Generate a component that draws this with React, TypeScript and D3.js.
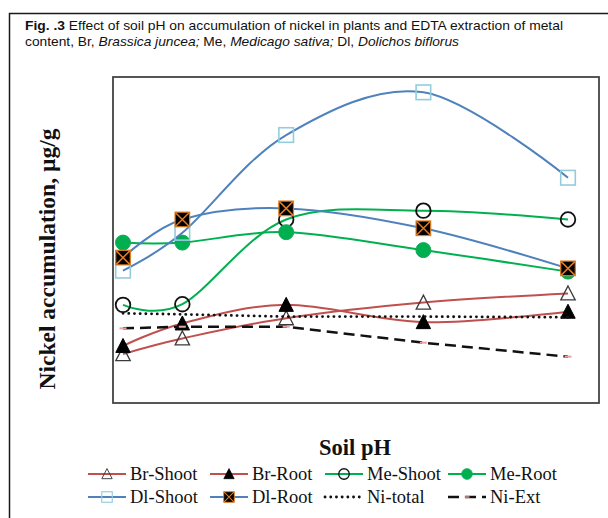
import React from "react";
import * as d3 from "d3";

const phValues = [4.0, 4.8, 6.2, 8.05, 10.0];
const brShoot = [15.0, 19.8, 26.0, 30.8, 33.6];
const brRoot = [17.5, 24.4, 30.1, 24.8, 28.0];
const meShoot = [30.1, 30.3, 56.3, 59.0, 56.3];
const meRoot = [49.2, 49.2, 52.4, 46.9, 40.3];
const dlShoot = [40.6, 52.2, 82.2, 95.3, 69.1];
const dlRoot = [44.6, 56.3, 59.7, 53.6, 41.3];
const niTotal = [27.5, 27.2, 26.5, 26.5, 26.3];
const niExt = [22.9, 23.4, 23.4, 18.5, 14.2];

const seriesNames = ["Br-Shoot", "Br-Root", "Me-Shoot", "Me-Root", "Dl-Shoot", "Dl-Root", "Ni-total", "Ni-Ext"];

const W = 608;
const H = 518;
const plot = { left: 113, top: 77, right: 599, bottom: 403 };

const RED = "#c0504d";
const GREEN = "#00b050";
const BLUE = "#4f81bd";
const LIGHTBLUE = "#93cddd";
const ORANGE = "#e07b1f";

type MarkerKind = "triOpen" | "triFill" | "circOpen" | "circFill" | "sqOpen" | "sqX" | "none" | "dash";

function Marker({ kind, x, y, s = 1 }: { kind: MarkerKind; x: number; y: number; s?: number }) {
  const t = `translate(${x},${y}) scale(${s})`;
  switch (kind) {
    case "triOpen":
      return <path transform={t} d="M0,-7.5L7.2,6.5L-7.2,6.5Z" fill="none" stroke="#3a3a3a" strokeWidth={1.3} />;
    case "triFill":
      return <path transform={t} d="M0,-7.5L7.2,6.5L-7.2,6.5Z" fill="#000" stroke="#000" strokeWidth={1} />;
    case "circOpen":
      return <circle transform={t} r={7.3} fill="none" stroke="#111" strokeWidth={1.8} />;
    case "circFill":
      return <circle transform={t} r={7.5} fill={GREEN} stroke="#1aa85a" strokeWidth={1} />;
    case "sqOpen":
      return <rect transform={t} x={-7.3} y={-7.3} width={14.6} height={14.6} fill="none" stroke={LIGHTBLUE} strokeWidth={1.6} />;
    case "sqX":
      return (
        <g transform={t}>
          <rect x={-7.3} y={-7.3} width={14.6} height={14.6} fill="#000" stroke={ORANGE} strokeWidth={1.2} />
          <path d="M-7,-7L7,7M7,-7L-7,7" stroke={ORANGE} strokeWidth={1.5} />
        </g>
      );
    case "dash":
      return <line transform={t} x1={-3.5} x2={3.5} y1={0} y2={0} stroke="#e8a3a3" strokeWidth={2} />;
    default:
      return null;
  }
}

const seriesValues = [brShoot, brRoot, meShoot, meRoot, dlShoot, dlRoot, niTotal, niExt];
const seriesStyle: { color: string; marker: MarkerKind; smooth: boolean; dash?: string; width: number; cap?: string }[] = [
  { color: RED, marker: "triOpen", smooth: true, width: 2 },
  { color: RED, marker: "triFill", smooth: true, width: 2 },
  { color: GREEN, marker: "circOpen", smooth: true, width: 2 },
  { color: GREEN, marker: "circFill", smooth: true, width: 2 },
  { color: BLUE, marker: "sqOpen", smooth: true, width: 2 },
  { color: BLUE, marker: "sqX", smooth: true, width: 2 },
  { color: "#111", marker: "none", smooth: false, dash: "0.1 5.6", width: 2.8, cap: "round" },
  { color: "#111", marker: "dash", smooth: false, dash: "11 6", width: 2.5 },
];

const legendCols = [88, 210, 325, 448];
const legendRows = [474, 497];

const TITLE_FONT = "'Liberation Sans Narrow','Arial Narrow','Liberation Sans',Arial,sans-serif";
const SERIF = "'Liberation Serif','Times New Roman',serif";

export default function App() {
  const x = d3.scaleLinear().domain([3.865, 10.418]).range([plot.left, plot.right]);
  const y = d3.scaleLinear().domain([0, 100]).range([plot.bottom, plot.top]);

  const smoothLine = d3
    .line<number>()
    .x((_, i) => x(phValues[i]))
    .y((d) => y(d))
    .curve(d3.curveCardinal.tension(0));
  const straightLine = d3
    .line<number>()
    .x((_, i) => x(phValues[i]))
    .y((d) => y(d));

  return (
    <svg width={W} height={H} style={{ position: "absolute", left: 0, top: 0, background: "#fff" }}>
      <rect x={0} y={0} width={W} height={H} fill="#fff" />
      {/* outer frame */}
      <path d={`M9.5,${H}L9.5,13.5L${W},13.5`} fill="none" stroke="#1a1a1a" strokeWidth={1.5} />
      {/* title */}
      <text x={25} y={30} fontFamily={TITLE_FONT} fontSize={13.5} fill="#111" textLength={538} lengthAdjust="spacingAndGlyphs">
        <tspan fontWeight="bold">Fig. .3</tspan>
        <tspan> Effect of soil pH on accumulation of nickel in plants and EDTA extraction of metal</tspan>
      </text>
      <text x={25} y={46} fontFamily={TITLE_FONT} fontSize={13.5} fill="#111" textLength={434} lengthAdjust="spacingAndGlyphs">
        <tspan>content, Br, </tspan>
        <tspan fontStyle="italic">Brassica juncea;</tspan>
        <tspan> Me, </tspan>
        <tspan fontStyle="italic">Medicago sativa;</tspan>
        <tspan> Dl, </tspan>
        <tspan fontStyle="italic">Dolichos biflorus</tspan>
      </text>

      {/* plot box */}
      <rect x={plot.left} y={plot.top} width={plot.right - plot.left} height={plot.bottom - plot.top} fill="#fff" stroke="#444" strokeWidth={1.8} />

      {/* series */}
      {seriesValues.map((vals, si) => {
        const st = seriesStyle[si];
        const d = (st.smooth ? smoothLine : straightLine)(vals) || "";
        return (
          <g key={seriesNames[si]}>
            <path d={d} fill="none" stroke={st.color} strokeWidth={st.width} strokeDasharray={st.dash} strokeLinecap={(st.cap as any) || "butt"} />
            {vals.map((v, i) => (
              <Marker key={i} kind={st.marker} x={x(phValues[i])} y={y(v)} />
            ))}
          </g>
        );
      })}

      {/* axis titles */}
      <text
        transform={`translate(55,259) rotate(-90)`}
        textAnchor="middle"
        fontFamily={SERIF}
        fontWeight="bold"
        fontSize={23.5}
        fill="#111"
      >
        Nickel accumulation,  µg/g
      </text>
      <text x={355} y={455} textAnchor="middle" fontFamily={SERIF} fontWeight="bold" fontSize={22.5} fill="#111">
        Soil pH
      </text>

      {/* legend */}
      {seriesNames.map((name, si) => {
        const st = seriesStyle[si];
        const col = si % 4;
        const row = Math.floor(si / 4);
        const lx = legendCols[col];
        const ly = legendRows[row];
        return (
          <g key={name}>
            <line x1={lx} x2={lx + 38} y1={ly} y2={ly} stroke={st.color} strokeWidth={st.width} strokeDasharray={st.dash} strokeLinecap={(st.cap as any) || "butt"} />
            <Marker kind={st.marker} x={lx + 19} y={ly} s={0.72} />
            <text x={lx + 42} y={ly + 6} fontFamily={SERIF} fontSize={18.5} fill="#111">
              {name}
            </text>
          </g>
        );
      })}
    </svg>
  );
}
